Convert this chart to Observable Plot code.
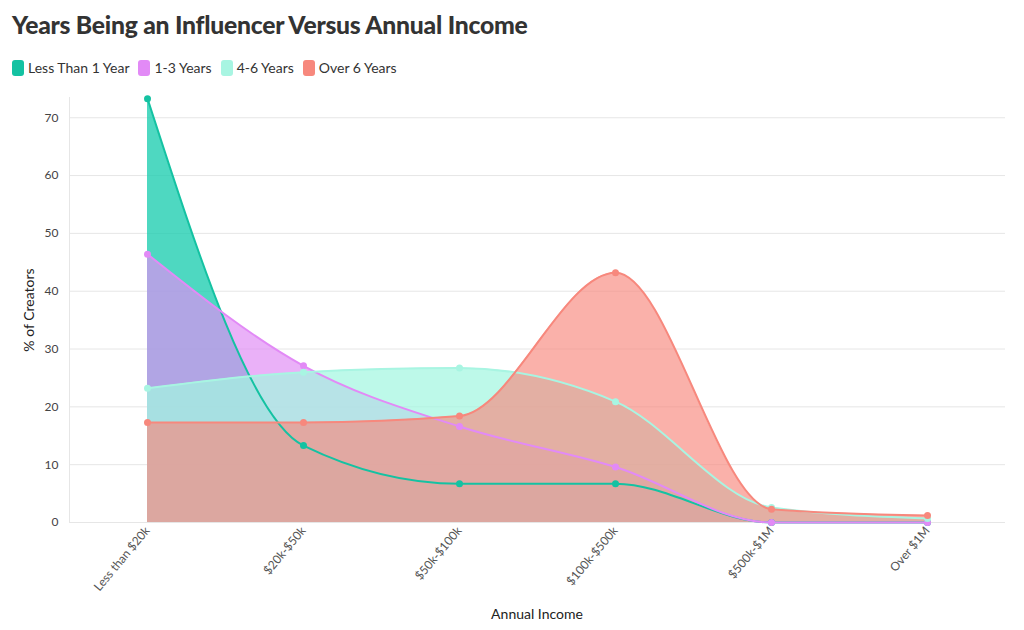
<!DOCTYPE html>
<html>
<head>
<meta charset="utf-8">
<script src="https://cdn.jsdelivr.net/npm/d3@7"></script>
<script src="https://cdn.jsdelivr.net/npm/@observablehq/plot@0.6"></script>
<style>
  html, body { margin: 0; padding: 0; background: #fff; }
  body { width: 1024px; height: 630px; position: relative; overflow: hidden; font-family: Lato, "Open Sans", sans-serif; color: #333; }
  #title { position: absolute; left: 12px; top: 10px; font-size: 24.7px; font-weight: 900; color: #333; letter-spacing: -0.25px; }
  #legend { position: absolute; left: 12px; top: 59px; display: flex; gap: 9px; font-size: 14px; color: #333; }
  #legend .item { display: flex; align-items: center; }
  #legend .sw { width: 12px; height: 16px; border-radius: 3px; margin-right: 4px; }
  #chart { position: absolute; left: 0; top: 85px; }
  #ylab { position: absolute; left: 28px; top: 310px; transform: translate(-50%, -50%) rotate(-90deg); font-size: 14px; color: #222; white-space: nowrap; }
  #xlab { position: absolute; left: 537px; top: 605px; transform: translateX(-50%); font-size: 14px; color: #222; }
</style>
</head>
<body>
<div id="title">Years Being an Influencer Versus Annual Income</div>
<div id="legend"></div>
<div id="chart"></div>
<div id="ylab">% of Creators</div>
<div id="xlab">Annual Income</div>
<script>
const incomes = ["Less than $20k", "$20k-$50k", "$50k-$100k", "$100k-$500k", "$500k-$1M", "Over $1M"];
const seriesNames = ["Less Than 1 Year", "1-3 Years", "4-6 Years", "Over 6 Years"];
const lessThan1 = [73.3, 13.3, 6.7, 6.7, 0, 0];
const oneToThree = [46.4, 27.1, 16.6, 9.6, 0, 0];
const fourToSix = [23.2, 26.0, 26.7, 20.9, 2.6, 0.7];
const overSix = [17.3, 17.3, 18.4, 43.2, 2.3, 1.2];
const yTicks = [0, 10, 20, 30, 40, 50, 60, 70];

const lineColors = ["#14c2a2", "#e28af6", "#a8f5e2", "#f7887d"];
const fillColors = ["#1ccdb0", "#e08cf5", "#a4f6e0", "#f7897e"];
const fillOps = [0.78, 0.68, 0.72, 0.66];

const values = [lessThan1, oneToThree, fourToSix, overSix];
const data = [];
seriesNames.forEach((s, i) => incomes.forEach((inc, j) => data.push({series: s, income: inc, value: values[i][j]})));

const legend = document.getElementById("legend");
seriesNames.forEach((s, i) => {
  const it = document.createElement("div");
  it.className = "item";
  it.innerHTML = `<span class="sw" style="background:${lineColors[i]}"></span><span>${s}</span>`;
  legend.appendChild(it);
});

const marks = [
  Plot.gridY(yTicks, {stroke: "#e6e6e6", strokeOpacity: 1}),
  Plot.ruleY([0], {stroke: "#e6e6e6"}),
  Plot.frame({anchor: "left", stroke: "#e6e6e6"})
];
seriesNames.forEach((s, i) => {
  const d = data.filter(r => r.series === s);
  marks.push(Plot.areaY(d, {x: "income", y: "value", fill: fillColors[i], fillOpacity: fillOps[i], curve: "monotone-x"}));
});
seriesNames.forEach((s, i) => {
  const d = data.filter(r => r.series === s);
  marks.push(Plot.line(d, {x: "income", y: "value", stroke: lineColors[i], strokeWidth: 2, curve: "monotone-x"}));
  marks.push(Plot.dot(d, {x: "income", y: "value", fill: lineColors[i], r: 3.5}));
});
marks.push(Plot.axisY({ticks: yTicks, tickSize: 0, tickPadding: 11, label: null, fontSize: 12, color: "#444"}));
marks.push(Plot.axisX({tickSize: 0, tickPadding: 6, tickRotate: -50, label: null, fontSize: 12, color: "#555"}));

const chart = Plot.plot({
  width: 1024,
  height: 545,
  marginLeft: 69,
  marginRight: 19,
  marginTop: 12,
  marginBottom: 108,
  style: {fontFamily: "Lato, 'Open Sans', sans-serif", background: "#fff"},
  x: {type: "point", domain: incomes, padding: 0.5},
  y: {domain: [0, 73.5]},
  marks
});
document.getElementById("chart").appendChild(chart);
</script>
</body>
</html>
